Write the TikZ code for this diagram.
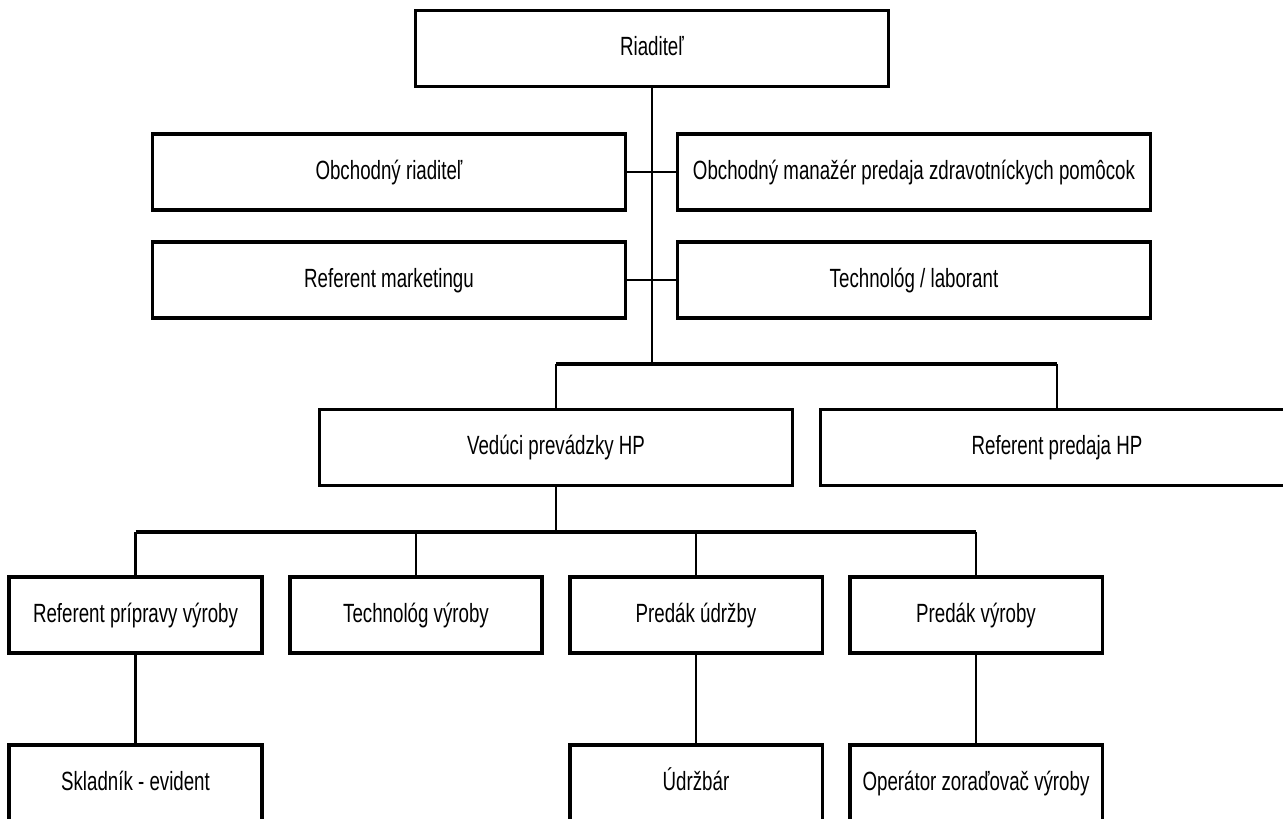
\documentclass[tikz,border=0pt]{standalone}
\usepackage{fontspec}
\setmainfont{Liberation Sans}[FakeStretch=0.71]
\usetikzlibrary{calc}

\begin{document}
\begin{tikzpicture}[
    box/.style={draw, line width=2pt, rectangle, inner sep=0pt, outer sep=0pt,
        minimum height=1.52cm, text height=11pt, text depth=3pt,
        font=\fontsize{15}{18}\selectfont},
    widebox/.style={box, minimum width=9.46cm},
    smallbox/.style={box, minimum width=5.05cm},
    link/.style={line width=1.4pt},
    bus/.style={line width=2pt}
]
    % Page
    \clip (0,0) rectangle (25.66,-16.36);

    % Top
    \node[widebox] (riaditel) at (13.04,-0.97) {Riaditeľ};

    % Staff rows
    \node[widebox] (obchriad) at (7.78,-3.44) {Obchodný riaditeľ};
    \node[widebox] (obchman) at (18.28,-3.44) {Obchodný manažér predaja zdravotníckych pomôcok};
    \node[widebox] (refmark) at (7.78,-5.60) {Referent marketingu};
    \node[widebox] (technol) at (18.28,-5.60) {Technológ / laborant};

    % Second level
    \node[widebox] (veduci) at (11.12,-8.95) {Vedúci prevádzky HP};
    \node[widebox] (refpred) at (21.14,-8.95) {Referent predaja HP};

    % Third level
    \node[smallbox] (priprava) at (2.71,-12.30) {Referent prípravy výroby};
    \node[smallbox] (techvyr) at (8.32,-12.30) {Technológ výroby};
    \node[smallbox] (predudr) at (13.92,-12.30) {Predák údržby};
    \node[smallbox] (predvyr) at (19.52,-12.30) {Predák výroby};

    % Fourth level
    \node[smallbox] (skladnik) at (2.71,-15.66) {Skladník - evident};
    \node[smallbox] (udrzbar) at (13.92,-15.66) {Údržbár};
    \node[smallbox] (operator) at (19.52,-15.66) {Operátor zoraďovač výroby};

    % Bus lines
    \coordinate (bus1) at (13.04,-7.28);
    \coordinate (bus2) at (11.12,-10.64);

    % Main line and staff links
    \draw[link] (riaditel.south) -- (bus1);
    \draw[link] (obchriad.east) -- (obchman.west);
    \draw[link] (refmark.east) -- (technol.west);

    \draw[bus] (veduci.north |- bus1) -- (refpred.north |- bus1);
    \foreach \n in {veduci,refpred} {
        \draw[link] (\n.north |- bus1) -- (\n.north);
    }

    \draw[link] (veduci.south) -- (bus2);
    \draw[bus] (priprava.north |- bus2) -- (predvyr.north |- bus2);
    \foreach \n in {priprava,techvyr,predudr,predvyr} {
        \draw[link] (\n.north |- bus2) -- (\n.north);
    }

    % Lower links
    \draw[link] (priprava.south) -- (skladnik.north);
    \draw[link] (predudr.south) -- (udrzbar.north);
    \draw[link] (predvyr.south) -- (operator.north);

\end{tikzpicture}
\end{document}
